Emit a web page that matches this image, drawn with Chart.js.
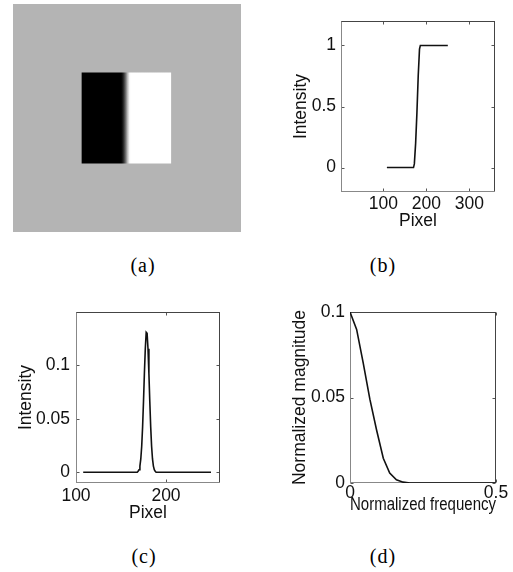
<!DOCTYPE html>
<html>
<head>
<meta charset="utf-8">
<script src="https://cdn.jsdelivr.net/npm/chart.js@4.4.0/dist/chart.umd.min.js"></script>
<style>
    body { margin: 0; background: #fff; width: 513px; height: 572px; position: relative; overflow: hidden; }
    canvas { position: absolute; }
    .cap { position: absolute; font-family: "Liberation Serif", "Times New Roman", serif; font-size: 20px; line-height: 1; letter-spacing: 1px; transform: translate(-50%, -50%); color: #000; }
</style>
</head>
<body>
<canvas id="chartA" width="260" height="240" style="left:0;top:0"></canvas>
<canvas id="chartB" width="253" height="240" style="left:260px;top:0"></canvas>
<canvas id="chartC" width="260" height="240" style="left:0;top:290px"></canvas>
<canvas id="chartD" width="253" height="240" style="left:260px;top:290px"></canvas>
<div class="cap" style="left:143px;top:265px">(a)</div>
<div class="cap" style="left:383px;top:265px">(b)</div>
<div class="cap" style="left:144px;top:556px">(c)</div>
<div class="cap" style="left:383px;top:556px">(d)</div>
<script>
// (a) test image, 360 x 360 pixels, the bar sits between these rows
const imageSize = 360;
const barRows = [108, 252];

// (b) intensity profile along a row through the bar
const profilePixel = [108, 170, 172, 175, 178, 181, 184, 186, 250];
const profileIntensity = [0, 0, 0.03, 0.2, 0.45, 0.75, 0.97, 1, 1];

// (c) derivative of the profile
const derivPixel = [108, 168, 169, 170, 171, 172, 173, 174, 175, 176, 177, 178, 179, 180, 181, 182, 183, 184, 185, 186, 187, 188, 189, 250];
const derivIntensity = [0, 0, 0.0009, 0.0024, 0.0058, 0.0125, 0.0244, 0.0425, 0.0663, 0.0926, 0.1156, 0.131, 0.130, 0.1156, 0.0926, 0.0663, 0.0425, 0.0244, 0.0125, 0.0058, 0.0024, 0.0009, 0, 0];

// (d) magnitude spectrum
const frequency = [0, 0.0227, 0.0455, 0.068, 0.091, 0.114, 0.136, 0.159, 0.182, 0.205, 0.5];
const magnitude = [0.1, 0.0898, 0.070, 0.049, 0.031, 0.0145, 0.0058, 0.0019, 0.0005, 0, 0];

// tick labels
const ticksBX = [100, 200, 300];
const ticksBY = [0, 0.5, 1];
const ticksCX = [100, 200];
const ticksCY = [0, 0.05, 0.1];
const ticksDX = [0, 0.5];
const ticksDY = [0, 0.05, 0.1];

Chart.defaults.font.family = '"Liberation Sans", Arial, sans-serif';
Chart.defaults.color = '#111';
const labelFont = { size: 17.5 };

// matlab style box with inward ticks
const matlabBox = {
    id: 'matlabBox',
    beforeDatasetsDraw(chart) {
        const { ctx, chartArea: a, scales: { x, y } } = chart;
        const L = Math.round(a.left) + 0.5, R = Math.round(a.right) - 0.5;
        const T = Math.round(a.top) + 0.5, B = Math.round(a.bottom) - 0.5;
        const seg = (x1, y1, x2, y2, c) => {
            ctx.strokeStyle = c;
            ctx.beginPath(); ctx.moveTo(x1, y1); ctx.lineTo(x2, y2); ctx.stroke();
        };
        ctx.save();
        ctx.lineWidth = 1;
        x.ticks.forEach(t => {
            const p = Math.round(x.getPixelForValue(t.value)) + 0.5;
            seg(p, B, p, B - 3, '#555');
            seg(p, T, p, T + 3, '#555');
        });
        y.ticks.forEach(t => {
            const p = Math.round(y.getPixelForValue(t.value)) + 0.5;
            seg(L, p, L + 3, p, '#555');
            seg(R, p, R - 3, p, '#555');
        });
        seg(L - 0.5, T, R + 0.5, T, '#444');
        seg(R, T, R, B, '#444');
        seg(L, T, L, B + 0.5, '#888');
        seg(L, B, R + 0.5, B, '#888');
        ctx.restore();
    }
};

function plotChart(id, p) {
    return new Chart(document.getElementById(id), {
        type: 'line',
        data: {
            datasets: [{
                data: p.xs.map((x, i) => ({ x: x, y: p.ys[i] })),
                borderColor: '#111',
                borderWidth: 1.6,
                pointRadius: 0,
                tension: 0
            }]
        },
        options: {
            responsive: false,
            animation: false,
            events: [],
            layout: { autoPadding: false, padding: p.padding },
            plugins: { legend: { display: false }, tooltip: { enabled: false } },
            scales: {
                x: {
                    type: 'linear', min: p.xRange[0], max: p.xRange[1],
                    grid: { display: false, drawTicks: false }, border: { display: false },
                    afterBuildTicks: s => { s.ticks = p.xTicks.map(v => ({ value: v })); },
                    afterFit: s => { s.height = p.xHeight; },
                    ticks: { padding: p.xPad, maxRotation: 0, autoSkip: false, font: labelFont, color: '#111', callback: v => String(v) },
                    title: { display: true, text: p.xTitle, font: labelFont, color: '#111', padding: { top: 0, bottom: p.xTitlePad } }
                },
                y: {
                    type: 'linear', min: p.yRange[0], max: p.yRange[1],
                    grid: { display: false, drawTicks: false }, border: { display: false },
                    afterBuildTicks: s => { s.ticks = p.yTicks.map(v => ({ value: v })); },
                    afterFit: s => { s.width = p.yWidth; },
                    ticks: { padding: p.yPad, font: labelFont, color: '#111', callback: v => String(v) },
                    title: { display: true, text: p.yTitle, font: labelFont, color: '#111', padding: { top: p.yTitlePad, bottom: 0 } }
                }
            }
        },
        plugins: [matlabBox]
    });
}

// (a) the image, drawn as a filled band whose shading follows the profile
const grayBackground = {
    id: 'grayBackground',
    beforeDatasetsDraw(chart) {
        const { ctx, chartArea: a } = chart;
        ctx.save();
        ctx.fillStyle = '#b4b4b4';
        ctx.fillRect(a.left, a.top, a.width, a.height);
        ctx.restore();
    }
};

new Chart(document.getElementById('chartA'), {
    type: 'line',
    data: {
        datasets: [{
            data: [profilePixel[0], profilePixel[profilePixel.length - 1]].map(x => ({ x: x, y: barRows[1] })),
            borderWidth: 0,
            pointRadius: 0,
            fill: { value: barRows[0] },
            backgroundColor: ctx => {
                const chart = ctx.chart;
                if (!chart.chartArea) return '#000';
                const xs = chart.scales.x;
                const x0 = profilePixel[0], x1 = profilePixel[profilePixel.length - 1];
                const g = chart.ctx.createLinearGradient(xs.getPixelForValue(x0), 0, xs.getPixelForValue(x1), 0);
                profilePixel.forEach((x, i) => {
                    const v = Math.round(profileIntensity[i] * 255);
                    g.addColorStop((x - x0) / (x1 - x0), `rgb(${v},${v},${v})`);
                });
                return g;
            }
        }]
    },
    options: {
        responsive: false,
        animation: false,
        events: [],
        layout: { autoPadding: false, padding: { left: 13, top: 4, right: 19, bottom: 8 } },
        plugins: { legend: { display: false }, tooltip: { enabled: false } },
        scales: {
            x: { type: 'linear', min: 0, max: imageSize, display: false },
            y: { type: 'linear', min: 0, max: imageSize, reverse: true, display: false }
        }
    },
    plugins: [grayBackground]
});

plotChart('chartB', {
    xs: profilePixel, ys: profileIntensity,
    xRange: [1, 360], yRange: [-0.2, 1.2],
    xTicks: ticksBX, yTicks: ticksBY,
    padding: { left: 0, top: 21, right: 18, bottom: 0 },
    yWidth: 81, xHeight: 48,
    xPad: 1.5, yPad: 5,
    xTitle: 'Pixel', yTitle: 'Intensity',
    xTitlePad: 8, yTitlePad: 31
});

plotChart('chartC', {
    xs: derivPixel, ys: derivIntensity,
    xRange: [100, 260], yRange: [-0.01, 0.15],
    xTicks: ticksCX, yTicks: ticksCY,
    padding: { left: 0, top: 22, right: 40, bottom: 0 },
    yWidth: 76, xHeight: 47,
    xPad: 2.3, yPad: 6,
    xTitle: 'Pixel', yTitle: 'Intensity',
    xTitlePad: 6.3, yTitlePad: 16
});

plotChart('chartD', {
    xs: frequency, ys: magnitude,
    xRange: [0, 0.5], yRange: [0, 0.1],
    xTicks: ticksDX, yTicks: ticksDY,
    padding: { left: 0, top: 22, right: 17, bottom: 0 },
    yWidth: 90, xHeight: 47,
    xPad: 0, yPad: 5,
    xTitle: 'Normalized frequency', yTitle: 'Normalized magnitude',
    xTitlePad: 14.7, yTitlePad: 29.3
});
</script>
</body>
</html>
